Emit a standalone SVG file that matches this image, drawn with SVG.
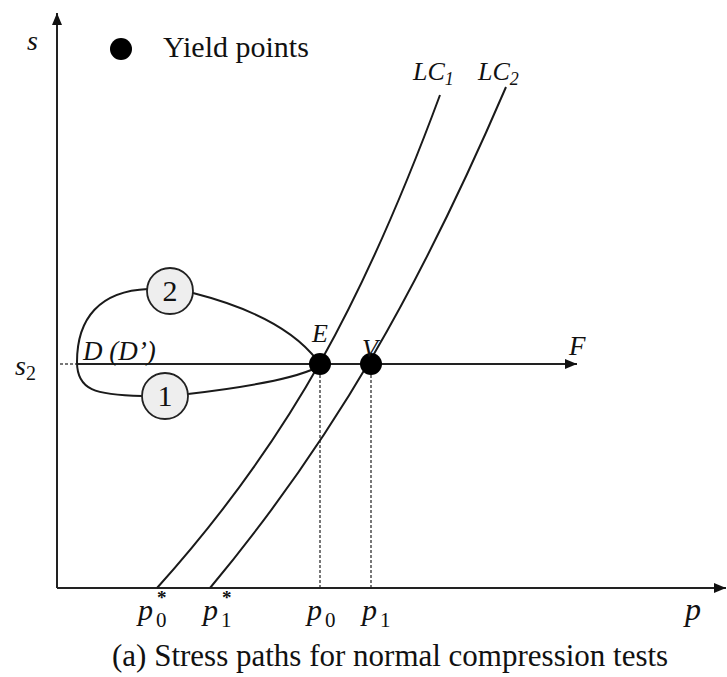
<svg xmlns="http://www.w3.org/2000/svg" width="727" height="677" viewBox="0 0 727 677">
<defs>
<marker id="arr" viewBox="0 0 12 10" refX="12" refY="5" markerWidth="12" markerHeight="10" markerUnits="userSpaceOnUse" orient="auto"><path d="M0,0 L12,5 L0,10 Z" fill="#111"/></marker>
</defs>
<style>
.ax{stroke:#222;stroke-width:2;fill:none}
.crv{stroke:#1a1a1a;stroke-width:2;fill:none}
.dot{fill:#000}
.dash{stroke:#777;stroke-width:2;stroke-dasharray:3 2;fill:none}
.lbl{font-family:"Liberation Serif",serif;font-style:italic;fill:#111}
.txt{font-family:"Liberation Serif",serif;fill:#111}
.circ{fill:#eeeeee;stroke:#222;stroke-width:1.8}
</style>
<rect width="727" height="677" fill="#fff"/>
<g id="connectors">
<path class="ax" d="M57,588 L57,13" marker-end="url(#arr)"/>
<path class="ax" d="M57,588 L726,588" marker-end="url(#arr)"/>
<path class="dash" d="M60,364 L78,364"/>
<path class="ax" d="M78,364 L577,364" marker-end="url(#arr)"/>
<path class="dash" d="M320,375 L320,587"/>
<path class="dash" d="M371,375 L371,587"/>
<path id="LC1" class="crv" d="M157,588 C292,438 366,295 440,95"/>
<path id="LC2" class="crv" d="M210,588 C335,438 420,287 506,87"/>
<path class="crv" d="M317,360 C290,325 240,305 193,293"/>
<path class="crv" d="M148,289 C100,291 77,318 77,362 C77,390 95,395 142,396"/>
<path class="crv" d="M188,394 C240,388 290,380 316,368"/>
</g>
<g id="legend">
<circle class="dot" cx="121" cy="49" r="11"/>
<text class="txt" x="163" y="57" font-size="30">Yield points</text>
</g>
<g id="path2">
<circle class="circ" cx="170" cy="291" r="23"/>
<text class="txt" x="170" y="301" font-size="30" text-anchor="middle">2</text>
</g>
<g id="path1">
<circle class="circ" cx="165" cy="396" r="23"/>
<text class="txt" x="165" y="406" font-size="30" text-anchor="middle">1</text>
</g>
<g id="E">
<circle class="dot" cx="320" cy="364" r="11"/>
<text class="lbl" x="312" y="342" font-size="26">E</text>
</g>
<g id="V">
<circle class="dot" cx="371" cy="364" r="11"/>
<text class="lbl" x="362" y="357" font-size="26">V</text>
</g>
<g id="labels">
<text class="lbl" x="27" y="50" font-size="28">s</text>
<text class="lbl" x="15" y="375" font-size="28">s<tspan font-style="normal" font-size="20" dy="5">2</tspan></text>
<text class="lbl" x="83" y="360" font-size="27">D (D’)</text>
<text class="lbl" x="569" y="355" font-size="27">F</text>
<text class="lbl" x="413" y="80" font-size="26">LC<tspan font-size="18" dy="5">1</tspan></text>
<text class="lbl" x="478" y="80" font-size="26">LC<tspan font-size="18" dy="5">2</tspan></text>
<text class="lbl" x="138" y="620" font-size="30">p</text>
<text class="txt" x="156" y="627" font-size="21">0</text>
<text class="txt" x="157" y="604" font-size="19" font-weight="bold">*</text>
<text class="lbl" x="203" y="620" font-size="30">p</text>
<text class="txt" x="221" y="627" font-size="21">1</text>
<text class="txt" x="222" y="604" font-size="19" font-weight="bold">*</text>
<text class="lbl" x="307" y="620" font-size="30">p</text>
<text class="txt" x="325" y="627" font-size="21">0</text>
<text class="lbl" x="362" y="620" font-size="30">p</text>
<text class="txt" x="380" y="627" font-size="21">1</text>
<text class="lbl" x="685" y="620" font-size="32">p</text>
<text class="txt" x="112" y="666" font-size="31">(a) Stress paths for normal compression tests</text>
</g>
</svg>
